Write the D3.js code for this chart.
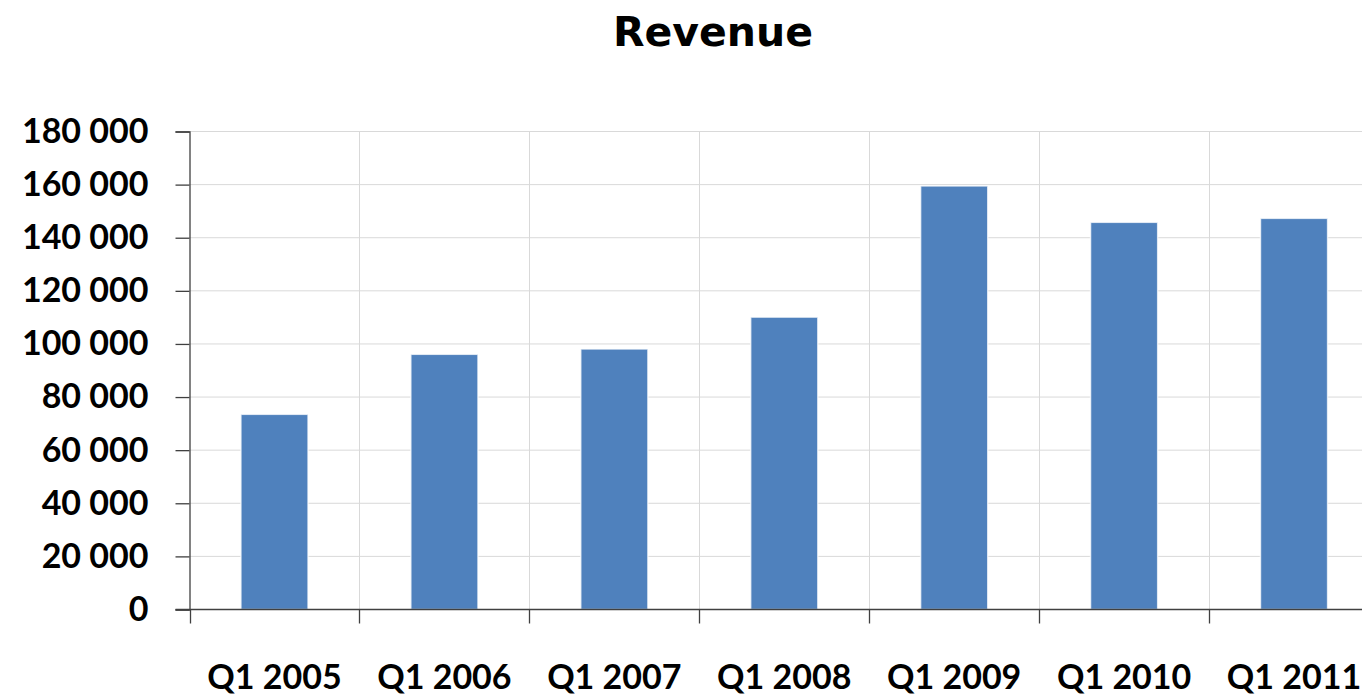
<!DOCTYPE html>
<html>
<head>
<meta charset="utf-8">
<script src="https://cdn.jsdelivr.net/npm/d3@7"></script>
<style>
  body { margin: 0; background: #fff; }
  #chart { width: 1362px; height: 696px; overflow: hidden; }
</style>
</head>
<body>
<div id="chart"></div>
<script>

const categories = ["Q1 2005", "Q1 2006", "Q1 2007", "Q1 2008", "Q1 2009", "Q1 2010", "Q1 2011"];
const revenue = [73500, 96100, 98100, 110100, 159500, 145800, 147300];
const yTicks = [0, 20000, 40000, 60000, 80000, 100000, 120000, 140000, 160000, 180000];
const title = "Revenue";

const width = 1362;
const height = 696;

const svg = d3.select("#chart")
    .append("svg")
    .attr("width", width)
    .attr("height", height);

// plot runs a little past the right edge, like the original
const plotLeft = 189.5, plotRight = 1379, plotTop = 131.5, plotBottom = 609.5;

const x = d3.scaleBand()
    .domain(categories)
    .range([plotLeft, plotRight])
    .padding(0);

const y = d3.scaleLinear()
    .domain([0, 180000])
    .range([plotBottom, plotTop]);

const fmt = d3.formatLocale({ decimal: ".", thousands: " ", grouping: [3], currency: ["", ""] }).format(",");

// gridlines
svg.append("g")
    .attr("stroke", "#d9d9d9")
    .attr("stroke-width", 1)
    .selectAll("line")
    .data(yTicks.slice(1))
    .join("line")
    .attr("x1", plotLeft)
    .attr("x2", plotRight)
    .attr("y1", d => y(d))
    .attr("y2", d => y(d));

svg.append("g")
    .attr("stroke", "#d9d9d9")
    .attr("stroke-width", 1)
    .selectAll("line")
    .data(categories.slice(1))
    .join("line")
    .attr("x1", d => Math.round(x(d)) + 0.5)
    .attr("x2", d => Math.round(x(d)) + 0.5)
    .attr("y1", plotTop)
    .attr("y2", plotBottom);

// bars
const barW = x.bandwidth() * 0.395;
svg.append("g")
    .selectAll("rect")
    .data(revenue)
    .join("rect")
    .attr("x", (d, i) => x(categories[i]) + x.bandwidth() / 2 - barW / 2)
    .attr("y", d => y(d))
    .attr("width", barW)
    .attr("height", d => y(0) - y(d))
    .attr("fill", "#4f81bd")
    .attr("stroke", "#ffffff")
    .attr("stroke-opacity", 0.75)
    .attr("stroke-width", 1.5);

// y axis
const yAxis = svg.append("g")
    .attr("transform", `translate(${plotLeft},0)`)
    .call(d3.axisLeft(y).tickValues(yTicks).tickFormat(fmt).tickSize(14).tickPadding(27));
yAxis.selectAll("line, path").attr("stroke", "#404040").attr("stroke-width", 1.3);
yAxis.selectAll("text")
    .attr("font-family", "Lato, 'Open Sans', sans-serif")
    .attr("font-weight", 700)
    .attr("font-size", 34)
    .attr("fill", "#000");

// x axis: labels centered in bands, ticks on band boundaries
const xAxis = svg.append("g")
    .attr("transform", `translate(0,${plotBottom})`)
    .call(d3.axisBottom(x).tickSize(0).tickPadding(55));
xAxis.select(".domain").remove();
xAxis.selectAll("text")
    .attr("font-family", "Lato, 'Open Sans', sans-serif")
    .attr("font-weight", 700)
    .attr("font-size", 34)
    .attr("fill", "#000");

svg.append("line")
    .attr("x1", plotLeft - 14)
    .attr("x2", plotRight)
    .attr("y1", plotBottom)
    .attr("y2", plotBottom)
    .attr("stroke", "#404040")
    .attr("stroke-width", 1.3);

svg.append("g")
    .attr("stroke", "#404040")
    .attr("stroke-width", 1.3)
    .selectAll("line")
    .data(categories)
    .join("line")
    .attr("x1", d => Math.round(x(d)) + 0.5)
    .attr("x2", d => Math.round(x(d)) + 0.5)
    .attr("y1", plotBottom)
    .attr("y2", plotBottom + 14);

// title
svg.append("text")
    .attr("x", 713)
    .attr("y", 46)
    .attr("text-anchor", "middle")
    .attr("font-family", "'DejaVu Sans', Verdana, sans-serif")
    .attr("font-weight", "bold")
    .attr("font-size", 41)
    .attr("fill", "#000")
    .text(title);

</script>
</body>
</html>
